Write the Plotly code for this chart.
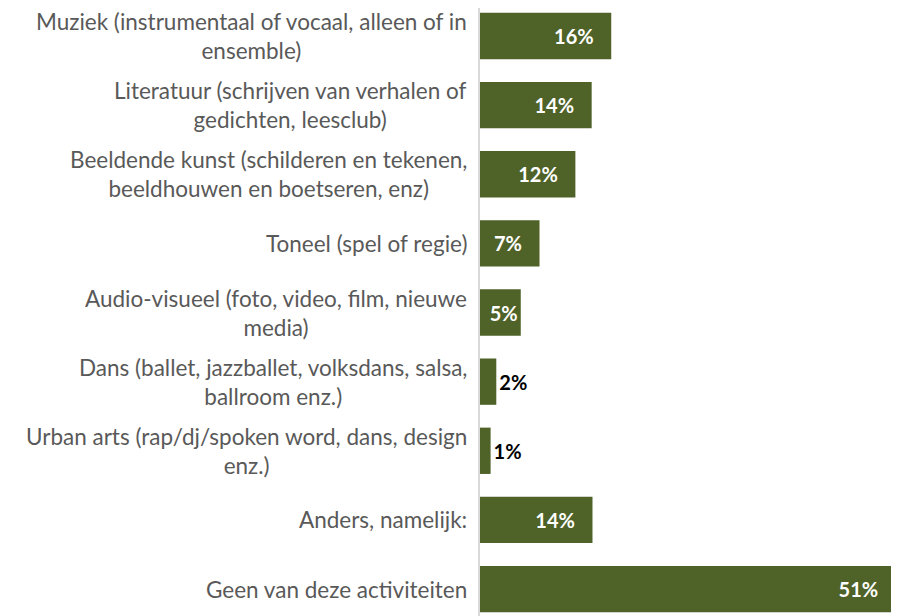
import plotly.graph_objects as go

categories = [
    "Muziek (instrumentaal of vocaal, alleen of in<br>ensemble)",
    "Literatuur (schrijven van verhalen of<br>gedichten, leesclub)",
    "Beeldende kunst (schilderen en tekenen,<br>beeldhouwen en boetseren, enz)",
    "Toneel (spel of regie)",
    "Audio-visueel (foto, video, film, nieuwe<br>media)",
    "Dans (ballet, jazzballet, volksdans, salsa,<br>ballroom enz.)",
    "Urban arts (rap/dj/spoken word, dans, design<br>enz.)",
    "Anders, namelijk:",
    "Geen van deze activiteiten",
]
values = [16.1, 13.7, 11.7, 7.3, 5.0, 2.0, 1.3, 13.8, 51.0]

BAR = "#4F6228"
NB = "\u00a0"
positions, colors, templates = [], [], []
for v in values:
    if v < 4:
        positions.append("outside"); colors.append("#000000")
        templates.append("%{x:.0f}%")
    elif v < 6:
        positions.append("inside"); colors.append("#FFFFFF")
        templates.append("%{x:.0f}%")
    else:
        positions.append("inside"); colors.append("#FFFFFF")
        templates.append("%{x:.0f}%" + NB * 3)

fig = go.Figure(go.Bar(
    x=values, y=categories, orientation="h",
    marker=dict(color=BAR, line=dict(width=0)),
    texttemplate=templates, textposition=positions, textangle=0,
    insidetextanchor="end", constraintext="none",
    textfont=dict(family="Lato", size=20, color=colors, weight="bold"),
    cliponaxis=False, hoverinfo="skip",
))

for c in categories:
    fig.add_annotation(
        x=0, y=c, xref="x", yref="y", text=c, showarrow=False,
        xanchor="right", yanchor="middle", align="center", xshift=-11,
        font=dict(family="Lato", size=22.5, color="#595959"),
    )

fig.update_layout(
    width=891, height=608,
    margin=dict(l=472, r=0, t=0, b=0),
    plot_bgcolor="white", paper_bgcolor="white",
    bargap=0.33, showlegend=False,
    xaxis=dict(range=[0, 51.4], visible=False, fixedrange=True),
    yaxis=dict(range=[8.39, -0.405], showticklabels=False, ticks="",
               showgrid=False, showline=True, linecolor="#D9D9D9", linewidth=2,
               zeroline=False),
)

fig.write_html("out.html")
